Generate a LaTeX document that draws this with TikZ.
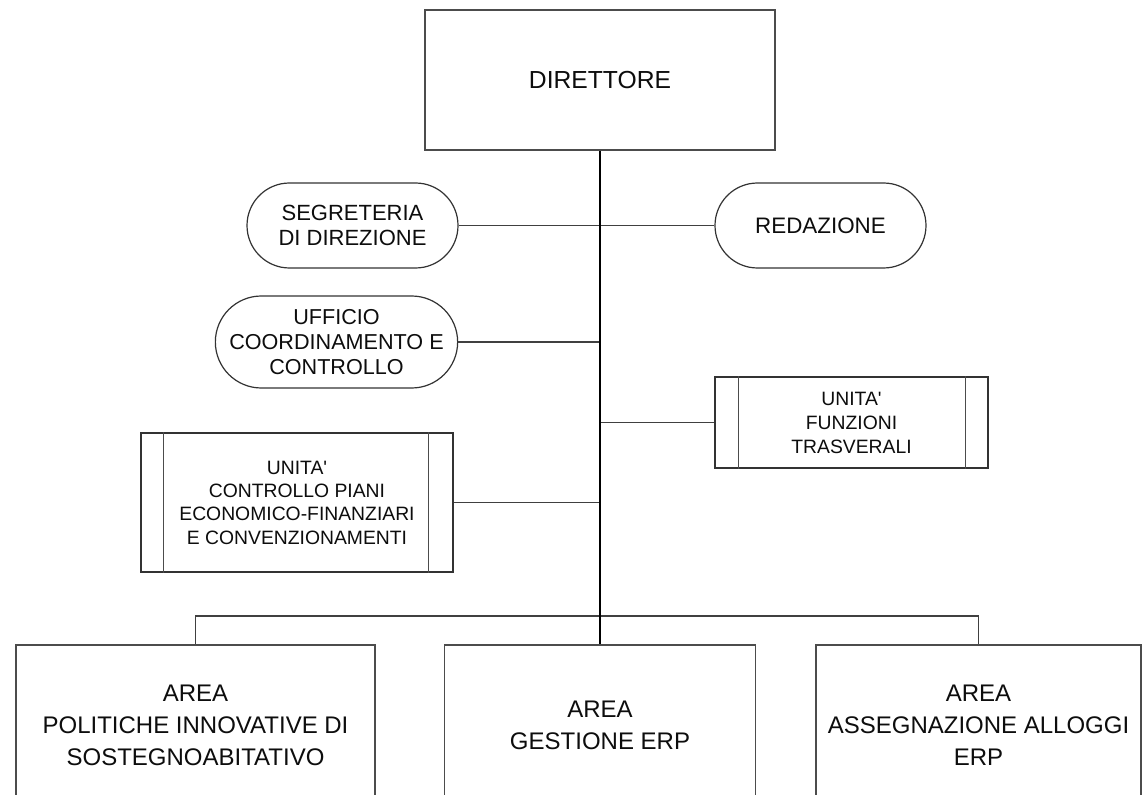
\documentclass[tikz,border=0pt]{standalone}
\usepackage{fontspec}
\setmainfont{Liberation Sans}
\usetikzlibrary{shapes.misc}
\begin{document}
\begin{tikzpicture}[x=0.75pt,y=-0.75pt,
  boxstyle/.style={draw=black!70, line width=1.1pt, fill=white, rectangle, inner sep=0pt, align=center, text=black!95},
  ovalstyle/.style={draw=black!80, line width=0.9pt, fill=white, rounded rectangle, inner sep=0pt, align=center, text=black!95},
  unitstyle/.style={draw=black!80, line width=0.9pt, fill=white, rectangle, inner sep=0pt, align=center, text=black!95},
  mainline/.style={draw=black, line width=1.6pt},
  conn/.style={draw=black!75, line width=1.1pt},
  innerline/.style={draw=black!70, line width=1.1pt}]
\useasboundingbox (0,0) rectangle (1147,795);
\clip (0,0) rectangle (1147,795);
\fill[white] (0,0) rectangle (1147,795);

% nodes
\node[boxstyle, minimum width=262.5pt, minimum height=105pt, font=\fontsize{18.5}{22}\selectfont] (dir) at (600,80) {DIRETTORE};

\node[ovalstyle, minimum width=158.25pt, minimum height=63.75pt, font=\fontsize{16.5}{18.75}\selectfont] (seg) at (352.5,225.5) {SEGRETERIA\\DI DIREZIONE};
\node[ovalstyle, minimum width=158.25pt, minimum height=63.75pt, font=\fontsize{16.8}{19}\selectfont] (red) at (820.5,225.5) {REDAZIONE};
\node[ovalstyle, minimum width=180.75pt, minimum height=69pt, font=\fontsize{16.2}{19}\selectfont] (uff) at (336.5,342) {UFFICIO\\COORDINAMENTO E\\CONTROLLO};

\node[unitstyle, minimum width=204.75pt, minimum height=68.25pt, font=\fontsize{14.5}{18}\selectfont] (uft) at (851.5,422.5) {UNITA\textquotesingle\\FUNZIONI\\TRASVERALI};
\node[unitstyle, minimum width=234pt, minimum height=104.25pt, font=\fontsize{14.5}{17.5}\selectfont] (ucp) at (297,502.5) {UNITA\textquotesingle\\CONTROLLO PIANI\\ECONOMICO-FINANZIARI\\E CONVENZIONAMENTI};

\node[boxstyle, minimum width=269.25pt, minimum height=120pt, font=\fontsize{18}{24}\selectfont] (area1) at (195.5,725) {AREA\\POLITICHE INNOVATIVE DI\\SOSTEGNOABITATIVO};
\node[boxstyle, minimum width=233.25pt, minimum height=120pt, font=\fontsize{18}{24}\selectfont] (area2) at (600,725) {AREA\\GESTIONE ERP};
\node[boxstyle, minimum width=243.75pt, minimum height=120pt, font=\fontsize{18}{24}\selectfont] (area3) at (978.5,725) {AREA\\ASSEGNAZIONE ALLOGGI\\ERP};

% inner vertical lines of the unit boxes
\draw[innerline] ([xshift=18pt]uft.north west) -- ([xshift=18pt]uft.south west);
\draw[innerline] ([xshift=-17.25pt]uft.north east) -- ([xshift=-17.25pt]uft.south east);
\draw[innerline] ([xshift=17.25pt]ucp.north west) -- ([xshift=17.25pt]ucp.south west);
\draw[innerline] ([xshift=-18.75pt]ucp.north east) -- ([xshift=-18.75pt]ucp.south east);

% connectors
\coordinate (bar) at (600,616);
\draw[conn] (seg.east) -- (seg.east -| dir.south);
\draw[conn] (red.west) -- (red.west -| dir.south);
\draw[conn] (uff.east) -- (uff.east -| dir.south);
\draw[conn] (uft.west) -- (uft.west -| dir.south);
\draw[conn] (ucp.east) -- (ucp.east -| dir.south);
\draw[conn] (area1.north) |- (bar) -| (area3.north);
\draw[mainline] (dir.south) -- (area2.north);
\end{tikzpicture}
\end{document}
